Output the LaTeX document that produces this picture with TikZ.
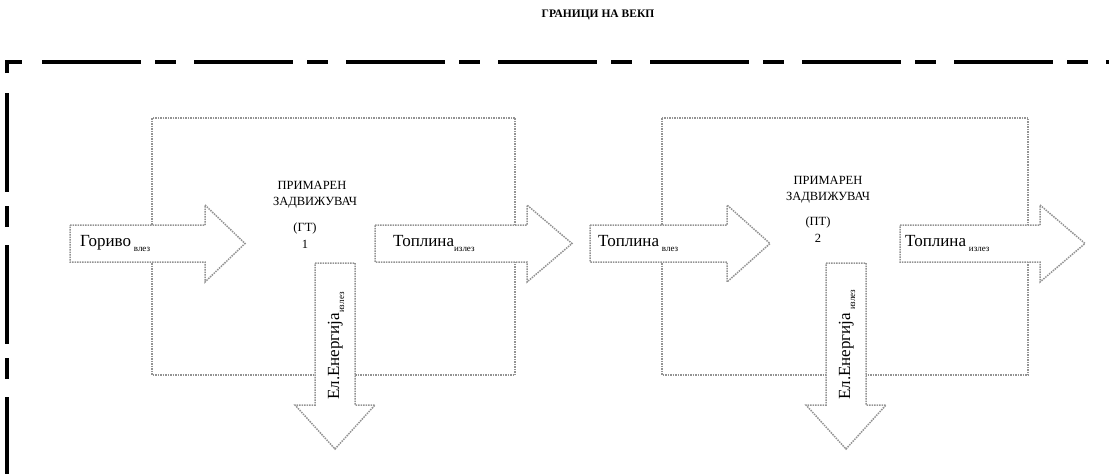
\documentclass[tikz,border=0pt]{standalone}
\usepackage{fontspec}
\setmainfont{Liberation Serif}
\begin{document}
\begin{tikzpicture}[x=1pt, y=-1pt,
  boxline/.style={densely dotted, gray!85, line width=1.5pt},
  arrowline/.style={densely dotted, gray!85, line width=1.5pt, fill=white},
  border/.style={line width=4pt, dash pattern=on 99pt off 14pt on 21pt off 18pt},
  lbl/.style={font=\fontsize{17}{17}\selectfont, inner sep=0pt},
  boxtext/.style={font=\fontsize{12.5}{12.5}\selectfont, inner sep=0pt}]

\useasboundingbox (0,0) rectangle (1109,474);

  %title and border
 \node[font=\bfseries\fontsize{11.5}{11.5}\selectfont] (title) at (598,15) {ГРАНИЦИ НА ВЕКП};
 \draw[line width=4pt] (7,73) -- (7,62) -- (22,62);
 \draw[border] (42,62) -- (1109,62);
 \draw[border] (7,93) -- (7,474);

  %the two boxes
 \foreach \xl/\xr/\name in {152/515/box1, 662/1028/box2}{
     \draw[boxline] (\xl,118) rectangle (\xr,375);
 }

  %arrows to the right
 \foreach \xa/\xb/\xc/\name in {70/205/245/a1, 375/527/572/a2, 590/727/770/a3, 900/1040/1085/a4}{
     \draw[arrowline] (\xa,225) -- (\xb,225) -- (\xb,205) -- (\xc,243.5) -- (\xb,282) -- (\xb,262) -- (\xa,262) -- cycle;
 }

  %arrows down
 \foreach \xm/\name in {335/d1, 846/d2}{
     \draw[arrowline] (\xm-20,263) -- (\xm+20,263) -- (\xm+20,405) -- (\xm+40,405) -- (\xm,449) -- (\xm-40,405) -- (\xm-20,405) -- cycle;
 }

  %box texts
 \node[boxtext] (p1) at (312,185) {ПРИМАРЕН};
 \node[boxtext] (z1) at (315,203) {ЗАДВИЖУВАЧ};
 \node[boxtext] (g1) at (305,228) {(ГТ)};
 \node[boxtext] (n1) at (305,244) {1};

 \node[boxtext] (p2) at (828,180) {ПРИМАРЕН};
 \node[boxtext] (z2) at (828,198) {ЗАДВИЖУВАЧ};
 \node[boxtext] (g2) at (818,222) {(ПТ)};
 \node[boxtext] (n2) at (818,238) {2};

  %arrow labels
 \node[lbl, anchor=west] (l1) at (80,243) {Гориво\,\raisebox{-5pt}{\fontsize{9}{9}\selectfont влез}};
 \node[lbl, anchor=west] (l2) at (393,243) {Топлина\raisebox{-5pt}{\fontsize{9}{9}\selectfont излез}};
 \node[lbl, anchor=west] (l3) at (598,243) {Топлина\,\raisebox{-5pt}{\fontsize{9}{9}\selectfont влез}};
 \node[lbl, anchor=west] (l4) at (905,243) {Топлина\,\raisebox{-5pt}{\fontsize{9}{9}\selectfont излез}};

 \node[lbl, rotate=90, anchor=west] (e1) at (336,400) {Ел.Енергија\raisebox{-5pt}{\fontsize{9}{9}\selectfont излез}};
 \node[lbl, rotate=90, anchor=west] (e2) at (847,400) {Ел.Енергија\,\raisebox{-5pt}{\fontsize{9}{9}\selectfont излез}};

\end{tikzpicture}
\end{document}
